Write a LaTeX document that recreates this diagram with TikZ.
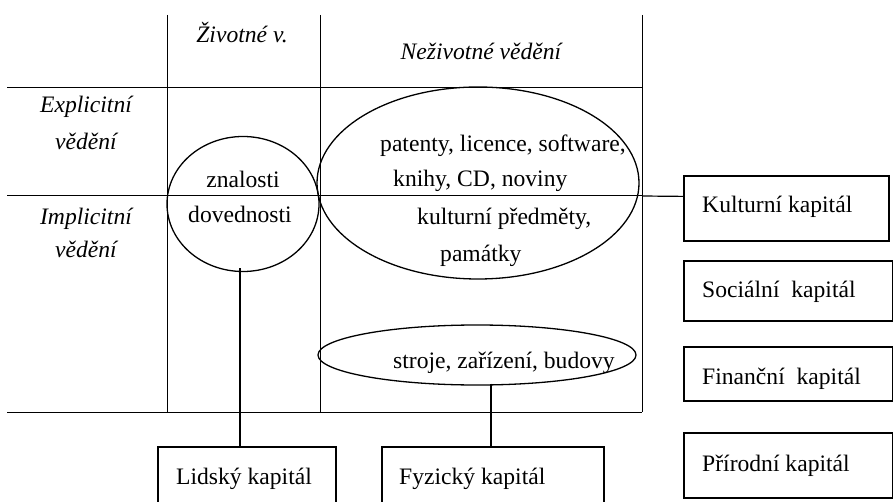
\documentclass[tikz,border=0pt]{standalone}
\usepackage{fontspec}
\setmainfont{Liberation Serif}
\usetikzlibrary{shapes.geometric}
\begin{document}
\begin{tikzpicture}[x=1pt,y=-1pt,
  every node/.style={font=\fontsize{23.6}{28}\selectfont, inner sep=0pt},
  grid/.style={line width=0.9pt},
  oval/.style={draw, ellipse, line width=1.3pt, inner sep=0pt},
  capbox/.style={draw, rectangle, line width=1.8pt, anchor=north west, inner sep=0pt},
  lab/.style={anchor=base west},
  head/.style={anchor=base, font=\fontsize{23.6}{28}\selectfont\itshape},
  conn/.style={line width=1.2pt}]
\useasboundingbox (0,0) rectangle (893,502);
\clip (0,0) rectangle (893,502);
% grid
\draw[grid] (167,15) -- (167,412);
\draw[grid] (320,15) -- (320,412);
\draw[grid] (642,15) -- (642,412);
\draw[grid] (7,87) -- (642,87);
\draw[grid] (7,195) -- (642,195);
\draw[grid] (7,412) -- (642,412);
% headers
\node[head] (hz) at (242,43) {Životné v.};
\node[head] (hn) at (481,60) {Neživotné vědění};
\node[head] (he1) at (86,113) {Explicitní};
\node[head] (he2) at (86,150) {vědění};
\node[head] (hi1) at (86,225) {Implicitní};
\node[head] (hi2) at (86,258) {vědění};
% ovals
\node[oval, minimum width=152pt, minimum height=135pt] (circ) at (243,204) {};
\node[oval, minimum width=322pt, minimum height=192pt] (big) at (478,183) {};
\node[oval, minimum width=318pt, minimum height=60pt] (small) at (477,355) {};
% oval texts
\node[anchor=base] (zn) at (243,188) {znalosti};
\node[anchor=base] (dov) at (240,223) {dovednosti};
\node[lab] (pat) at (380,152) {patenty, licence, software,};
\node[lab] (kn) at (393,187) {knihy, CD, noviny};
\node[lab] (kp) at (417,225) {kulturní předměty,};
\node[lab] (pam) at (440,262) {památky};
\node[lab] (str) at (393,368) {stroje, zařízení, budovy};
% capital boxes
\node[capbox, minimum width=178pt, minimum height=70pt] (lid) at (157,446) {};
\node[capbox, minimum width=222pt, minimum height=70pt] (fyz) at (381,446) {};
\node[capbox, minimum width=205pt, minimum height=65pt] (kult) at (683,175) {};
\node[capbox, minimum width=209pt, minimum height=60pt] (soc) at (683,260) {};
\node[capbox, minimum width=209pt, minimum height=54pt] (fin) at (683,346) {};
\node[capbox, minimum width=209pt, minimum height=65pt] (pri) at (683,432) {};
\node[lab] (tlid) at (176,484) {Lidský kapitál};
\node[lab] (tfyz) at (399,484) {Fyzický kapitál};
\node[lab] (tkult) at (702,213) {Kulturní kapitál};
\node[lab] (tsoc) at (702,298) {Sociální\ \ kapitál};
\node[lab] (tfin) at (702,384) {Finanční\ \ kapitál};
\node[lab] (tpri) at (702,471) {Přírodní kapitál};
% connectors
\coordinate (kc) at (642,196);
\draw[conn] ([xshift=-3pt,yshift=4pt]circ.south) -- ([xshift=-3pt]circ.south |- lid.north);
\draw[conn] ([xshift=-2pt,yshift=2pt]fyz.north |- small.south) -- ([xshift=-2pt]fyz.north);
\draw[conn] (kc) -- ([yshift=12pt]kult.west);
\end{tikzpicture}
\end{document}
